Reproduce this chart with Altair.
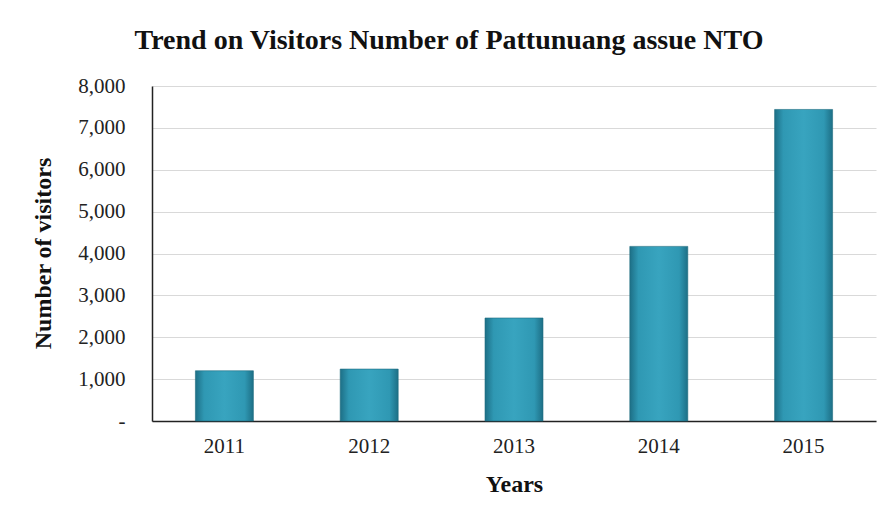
import altair as alt
import pandas as pd

years = ["2011", "2012", "2013", "2014", "2015"]
visitors = [1200, 1240, 2460, 4170, 7440]
y_ticks = [0, 1000, 2000, 3000, 4000, 5000, 6000, 7000, 8000]

df = pd.DataFrame({"Year": years, "Visitors": visitors})

grad = alt.Gradient(
    gradient="linear",
    x1=0, x2=1, y1=0, y2=0,
    stops=[
        alt.GradientStop(color="#1d6f86", offset=0),
        alt.GradientStop(color="#2f98b3", offset=0.15),
        alt.GradientStop(color="#38a4bf", offset=0.5),
        alt.GradientStop(color="#2f98b3", offset=0.85),
        alt.GradientStop(color="#1d6f86", offset=1),
    ],
)

font = "Liberation Serif"

chart = (
    alt.Chart(df)
    .mark_bar(size=58, color=grad, stroke="#1f6c80", strokeWidth=0.6)
    .encode(
        x=alt.X(
            "Year:N",
            sort=years,
            title="Years",
            axis=alt.Axis(
                labelAngle=0,
                labelFont=font,
                labelFontSize=21,
                labelColor="#222222",
                labelPadding=14,
                ticks=False,
                domainColor="#222222",
                domainWidth=1.5,
                titleFont=font,
                titleFontSize=24,
                titleFontWeight="bold",
                titleColor="#111111",
                titlePadding=16,
            ),
        ),
        y=alt.Y(
            "Visitors:Q",
            title="Number of visitors",
            scale=alt.Scale(domain=[0, 8000], nice=False),
            axis=alt.Axis(
                values=y_ticks,
                labelExpr="datum.value == 0 ? '-' : format(datum.value, ',')",
                labelFont=font,
                labelFontSize=21,
                labelColor="#222222",
                labelPadding=27,
                ticks=False,
                domainColor="#222222",
                domainWidth=1.5,
                gridColor="#d9d9d9",
                gridWidth=1,
                titleFont=font,
                titleFontSize=24,
                titleFontWeight="bold",
                titleColor="#111111",
                titleX=-97,
                titleY=167,
            ),
        ),
    )
    .properties(
        width=724,
        height=335,
        autosize=alt.AutoSizeParams(type="none"),
        padding={"left": 152, "top": 86, "right": 13, "bottom": 93},
        title=alt.TitleParams(
            "Trend on Visitors Number of Pattunuang assue NTO",
            font=font,
            fontSize=28,
            fontWeight="bold",
            color="#111111",
            anchor="middle",
            dx=-65,
            offset=20,
        ),
    )
    .configure_view(stroke=None)
)

chart.save("out.html", embed_options={"renderer": "svg", "actions": False})
